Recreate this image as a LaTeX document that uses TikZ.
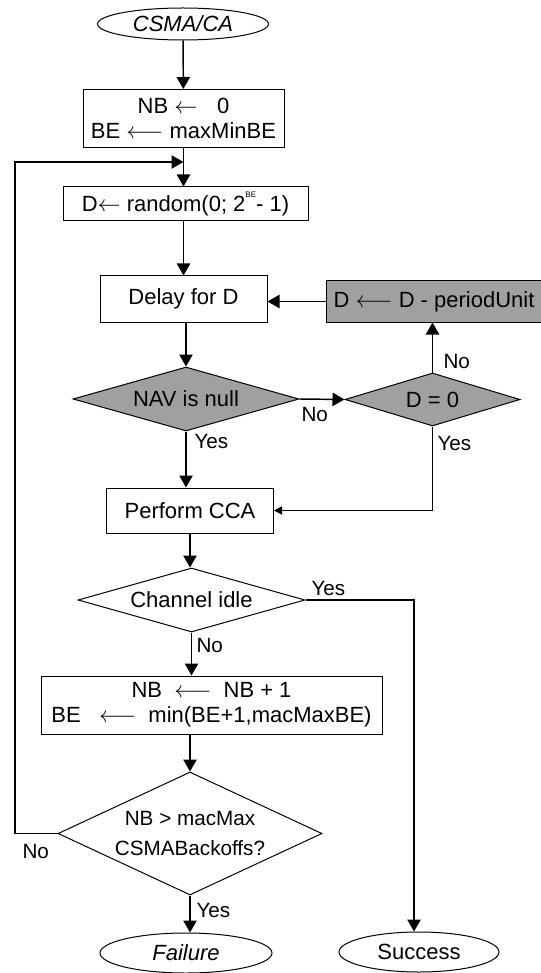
\documentclass[tikz,border=0pt]{standalone}
\usepackage{fontspec}
\setmainfont{Liberation Sans}
\usetikzlibrary{shapes.geometric,arrows.meta}

\definecolor{navgray}{RGB}{160,160,160}
\newcommand{\chartfont}{\fontsize{16.5}{18}\selectfont}
\newcommand{\tagfont}{\fontsize{15.5}{17}\selectfont}

\tikzset{every picture/.style={line width=0.75pt}}
\tikzset{
  terminal/.style={draw, ellipse, inner sep=0pt, font=\chartfont},
  procbox/.style={draw, rectangle, inner sep=0pt, align=center, font=\chartfont},
  decision/.style={draw, diamond, inner sep=0pt, align=center, font=\chartfont},
  shaded/.style={fill=navgray},
  flow/.style={-{Triangle[length=9pt,width=10pt]}, line width=1.1pt},
  flowsmall/.style={-{Triangle[length=6pt,width=6pt]}, line width=1.1pt},
  branch/.style={font=\tagfont, inner sep=0.75pt, anchor=west}
}

\begin{document}
\begin{tikzpicture}[x=0.75pt,y=0.75pt,yscale=-1,xscale=1]
\useasboundingbox (0,0) rectangle (540,973);

% Flowchart: Terminator
\node (start) at (183,24) [terminal, minimum width=128.25pt, minimum height=24pt] {\itshape CSMA/CA};
% Flowchart: Process
\node (init) at (183.5,118.5) [procbox, minimum width=150.75pt, minimum height=43.5pt] {NB $\leftarrow$\hspace{0.9em}0\\[1pt] BE $\longleftarrow$ maxMinBE};
% Flowchart: Process
\node (rand) at (185.5,204) [procbox, minimum width=183.75pt, minimum height=25.5pt] {D$\leftarrow$ random(0; 2\raisebox{1.2ex}{\fontsize{6}{6}\selectfont BE}- 1)};
% Flowchart: Process
\node (delay) at (183.5,299) [procbox, minimum width=125.25pt, minimum height=34.5pt] {Delay for D};
% Flowchart: Decision
\node (nav) at (186,399) [decision, shaded, aspect=3.53, minimum width=169.5pt, minimum height=48pt] {NAV is null};
% Flowchart: Decision
\node (dzero) at (432.5,399.5) [decision, shaded, aspect=3.3, minimum width=131.25pt, minimum height=39.75pt] {D = 0};
% Flowchart: Process
\node (dec) at (434,301.5) [procbox, shaded, minimum width=162pt, minimum height=30.75pt] {D $\longleftarrow$ D - periodUnit};
% Flowchart: Process
\node (cca) at (190,510.5) [procbox, minimum width=125.25pt, minimum height=33.75pt] {Perform CCA};
% Flowchart: Decision
\node (idle) at (191.5,600) [decision, aspect=3.55, minimum width=170.25pt, minimum height=48pt] {Channel idle};
% Flowchart: Process
\node (incr) at (211.5,705) [procbox, minimum width=255.75pt, minimum height=43.5pt] {NB \ $\longleftarrow$\ \ NB + 1\\[1pt] BE \ \ $\longleftarrow$\ \ min(BE+1,macMaxBE)};
% Flowchart: Decision
\node (maxb) at (190,833.5) [decision, aspect=2.15, inner sep=-3pt, minimum width=198pt, minimum height=92.25pt, font=\tagfont] {NB > macMax\\[5pt] CSMABackoffs?};
% Flowchart: Terminator
\node (fail) at (186,953) [terminal, minimum width=129pt, minimum height=30pt] {\itshape Failure};
% Flowchart: Terminator
\node (succ) at (419,952) [terminal, minimum width=120pt, minimum height=30pt] {Success};

% Corners of the bent lines
\coordinate (loopc) at (15,162);
\coordinate (yesc) at (414,600);

%Straight Lines
\draw [flow] (start) -- (init);
\draw [flow] (init.south) -- (init.south |- rand.north);
\draw [flow] (rand.south -| delay.south) -- (delay.north);
\draw [flow] (delay.south) -- (delay.south -| nav.north) -- (nav.north);
\draw [flow] (nav.south) -- (nav.south |- cca.north);
\draw [flow] (nav.east) -- (dzero.west);
\draw [flow] (dzero.north) -- (dzero.north |- dec.south);
\draw [flow] (dec.west) -- (dec.west -| delay.east);
\draw [flowsmall] (dzero.south) |- (cca.east);
\draw [flow] (cca.south) -- (cca.south |- idle.north);
\draw [flow] (idle.south) -- (idle.south |- incr.north);
\draw [flow] (idle.east) -- (yesc) -- (yesc |- succ.north);
\draw [flow] (maxb.north |- incr.south) -- (maxb.north);
\draw [flow] (maxb.west) -| (loopc) -- (loopc -| init.south);
\draw [flow] (maxb.south) -- (maxb.south |- fail.north);

% Text Node
\node (navyes) at (193,441) [branch] {Yes};
% Text Node
\node (navno) at (300,414) [branch] {No};
% Text Node
\node (dzerono) at (442,361) [branch] {No};
% Text Node
\node (dzeroyes) at (436,443) [branch] {Yes};
% Text Node
\node (idleyes) at (310,588) [branch] {Yes};
% Text Node
\node (idleno) at (195,645) [branch] {No};
% Text Node
\node (maxbno) at (21,851) [branch] {No};
% Text Node
\node (maxbyes) at (195,910) [branch] {Yes};

\end{tikzpicture}
\end{document}
